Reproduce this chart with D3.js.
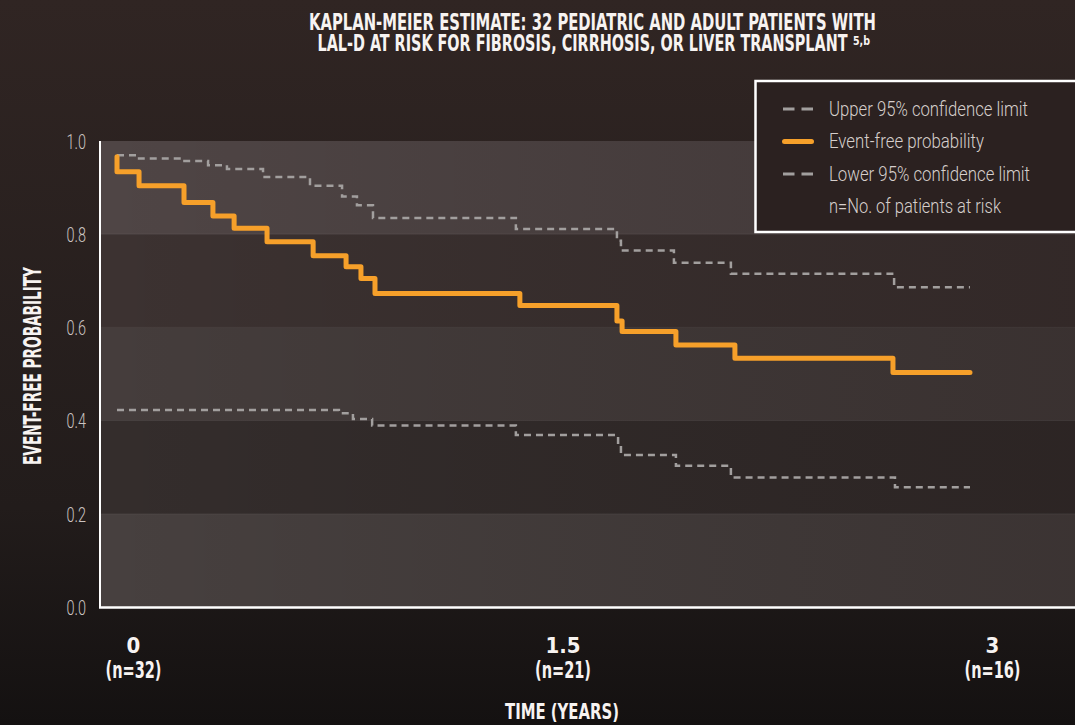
<!DOCTYPE html>
<html lang="en">
<head>
<meta charset="UTF-8">
<title>Kaplan-Meier Estimate</title>
<script src="https://d3js.org/d3.v7.min.js"></script>
<style>
    body {
        margin: 0;
        background: #1c1716;
        overflow: hidden;
    }
    .bold {
        font-family: "Liberation Sans Narrow", "DejaVu Sans Condensed", "DejaVu Sans", sans-serif;
        font-weight: bold;
        fill: #f7f3f1;
    }
    .light {
        font-family: Roboto, "Open Sans", sans-serif;
        font-weight: 300;
        fill: #d6cfcc;
    }
</style>
</head>
<body>
<svg id="chart" width="1075" height="725"></svg>
<script>
    // ---- data ----
    const yTicks = [0, 0.2, 0.4, 0.6, 0.8, 1.0];
    const xTicks = [0, 1.5, 3];
    const xTickLabels = ["0", "1.5", "3"];
    const atRisk = [32, 21, 16];
    const endTime = 2.979;

    // event-free probability (step times in years, value after each step)
    const kmTimes  = [0, 0, 0.077, 0.234, 0.335, 0.409, 0.524, 0.685, 0.800, 0.852, 0.901, 1.407, 1.746, 1.764, 1.952, 2.158, 2.710];
    const kmValues = [0.966, 0.934, 0.904, 0.868, 0.839, 0.813, 0.784, 0.754, 0.730, 0.705, 0.673, 0.647, 0.614, 0.591, 0.562, 0.534, 0.503];

    // upper 95% confidence limit
    const upperTimes  = [0, 0.077, 0.227, 0.318, 0.384, 0.510, 0.674, 0.786, 0.838, 0.894, 1.393, 1.746, 1.760, 1.945, 2.144, 2.714];
    const upperValues = [0.9695, 0.9625, 0.957, 0.948, 0.940, 0.923, 0.904, 0.881, 0.862, 0.835, 0.811, 0.786, 0.765, 0.739, 0.715, 0.686];

    // lower 95% confidence limit
    const lowerTimes  = [0, 0.775, 0.824, 0.891, 1.393, 1.750, 1.760, 1.952, 2.144, 2.717];
    const lowerValues = [0.4227, 0.4157, 0.4034, 0.3895, 0.369, 0.3476, 0.326, 0.303, 0.278, 0.257];

    const legendItems = [
        { label: "Upper 95% confidence limit", type: "dash", w: 199 },
        { label: "Event-free probability", type: "solid", w: 155 },
        { label: "Lower 95% confidence limit", type: "dash", w: 201 },
        { label: "n=No. of patients at risk", type: "none", w: 172 }
    ];

    const W = 1075, H = 725;
    const plot = { left: 100, top: 141, bottom: 607, right: 1075 };
    const orange = "#f6a02a";
    const grey = "#a29f9e";

    const svg = d3.select("#chart");
    const defs = svg.append("defs");

    // page background
    const bg = defs.append("linearGradient").attr("id", "bg")
        .attr("x1", 0).attr("y1", 0).attr("x2", 0).attr("y2", 1);
    bg.append("stop").attr("offset", "0%").attr("stop-color", "#302523");
    bg.append("stop").attr("offset", "70%").attr("stop-color", "#221c1b");
    bg.append("stop").attr("offset", "100%").attr("stop-color", "#141111");
    svg.append("rect").attr("width", W).attr("height", H).attr("fill", "url(#bg)");

    const x = d3.scaleLinear().domain([0, 3]).range([117, 976]);
    const y = d3.scaleLinear().domain([0, 1]).range([plot.bottom, plot.top]);

    // alternating bands
    const bandColors = ["#47403f", "#342d2c", "#453d3c", "#3c3231", "#4f4545"];
    svg.append("g").selectAll("rect")
        .data(yTicks.slice(0, -1))
        .join("rect")
        .attr("x", plot.left)
        .attr("y", d => y(d + 0.2))
        .attr("width", plot.right - plot.left)
        .attr("height", d => y(d) - y(d + 0.2))
        .attr("fill", (d, i) => bandColors[i]);

    // darken towards the right
    const shade = defs.append("linearGradient").attr("id", "shade");
    shade.append("stop").attr("offset", "0%").attr("stop-color", "#000").attr("stop-opacity", 0);
    shade.append("stop").attr("offset", "100%").attr("stop-color", "#120808").attr("stop-opacity", 0.22);
    svg.append("rect")
        .attr("x", plot.left).attr("y", plot.top)
        .attr("width", plot.right - plot.left).attr("height", plot.bottom - plot.top)
        .attr("fill", "url(#shade)");

    svg.append("g").selectAll("line")
        .data(yTicks.slice(1, -1))
        .join("line")
        .attr("x1", plot.left).attr("x2", plot.right)
        .attr("y1", d => y(d)).attr("y2", d => y(d))
        .attr("stroke", "#fff").attr("stroke-opacity", 0.08);

    // step lines
    const stepLine = d3.line()
        .x(d => x(d[0]))
        .y(d => y(d[1]))
        .curve(d3.curveStepAfter);

    function series(times, values) {
        const pts = times.map((t, i) => [t, values[i]]);
        pts.push([endTime, values[values.length - 1]]);
        return pts;
    }

    svg.append("path")
        .datum(series(upperTimes, upperValues))
        .attr("d", stepLine)
        .attr("fill", "none").attr("stroke", grey)
        .attr("stroke-width", 2.5).attr("stroke-dasharray", "7,5");

    svg.append("path")
        .datum(series(lowerTimes, lowerValues))
        .attr("d", stepLine)
        .attr("fill", "none").attr("stroke", grey)
        .attr("stroke-width", 2.5).attr("stroke-dasharray", "7,5");

    svg.append("path")
        .datum(series(kmTimes, kmValues))
        .attr("d", stepLine)
        .attr("fill", "none").attr("stroke", orange)
        .attr("stroke-width", 5)
        .attr("stroke-linejoin", "round").attr("stroke-linecap", "round");

    // axis lines
    svg.append("line")
        .attr("x1", plot.left).attr("x2", plot.left)
        .attr("y1", plot.top).attr("y2", plot.bottom + 1)
        .attr("stroke", "#fff").attr("stroke-width", 2);
    svg.append("line")
        .attr("x1", plot.left - 1).attr("x2", plot.right)
        .attr("y1", plot.bottom + 0.5).attr("y2", plot.bottom + 0.5)
        .attr("stroke", "#fff").attr("stroke-width", 2.5);

    // y axis ticks
    const yAxis = svg.append("g")
        .attr("transform", `translate(${plot.left},0)`)
        .call(d3.axisLeft(y).tickValues(yTicks).tickFormat(d3.format(".1f")).tickSize(0).tickPadding(14));
    yAxis.select(".domain").remove();
    yAxis.selectAll("text")
        .attr("class", "light")
        .attr("font-size", 20)
        .attr("dy", "0.36em")
        .attr("textLength", 19.5)
        .attr("lengthAdjust", "spacingAndGlyphs")
        .style("fill", "#cbc4c1");

    // y axis title
    svg.append("text")
        .attr("class", "bold")
        .attr("transform", "translate(41,366) rotate(-90)")
        .attr("text-anchor", "middle")
        .attr("font-size", 25)
        .attr("textLength", 198)
        .attr("lengthAdjust", "spacingAndGlyphs")
        .text("EVENT-FREE PROBABILITY");

    // x ticks with patients at risk
    const xt = svg.append("g").selectAll("g")
        .data(xTicks)
        .join("g")
        .attr("transform", d => `translate(${x(d) + 16.5},0)`);
    xt.append("text")
        .attr("class", "bold")
        .attr("y", 653)
        .attr("text-anchor", "middle")
        .attr("font-size", 22)
        .text((d, i) => xTickLabels[i]);
    xt.append("text")
        .attr("class", "bold")
        .attr("y", 678)
        .attr("text-anchor", "middle")
        .attr("font-size", 23)
        .attr("textLength", 56)
        .attr("lengthAdjust", "spacingAndGlyphs")
        .text((d, i) => `(n=${atRisk[i]})`);

    svg.append("text")
        .attr("class", "bold")
        .attr("x", 562).attr("y", 719)
        .attr("text-anchor", "middle")
        .attr("font-size", 22)
        .attr("textLength", 114)
        .attr("lengthAdjust", "spacingAndGlyphs")
        .text("TIME (YEARS)");

    // title
    svg.append("text")
        .attr("class", "bold")
        .attr("x", 309).attr("y", 29.5)
        .attr("font-size", 23.5)
        .attr("textLength", 567)
        .attr("lengthAdjust", "spacingAndGlyphs")
        .text("KAPLAN-MEIER ESTIMATE: 32 PEDIATRIC AND ADULT PATIENTS WITH");
    svg.append("text")
        .attr("class", "bold")
        .attr("x", 317.5).attr("y", 50.5)
        .attr("font-size", 23.5)
        .attr("textLength", 530)
        .attr("lengthAdjust", "spacingAndGlyphs")
        .text("LAL-D AT RISK FOR FIBROSIS, CIRRHOSIS, OR LIVER TRANSPLANT");
    svg.append("text")
        .attr("class", "bold")
        .attr("x", 853).attr("y", 45)
        .attr("font-size", 12.5)
        .attr("textLength", 17)
        .attr("lengthAdjust", "spacingAndGlyphs")
        .text("5,b");

    // legend
    const legend = svg.append("g");
    legend.append("rect")
        .attr("x", 755.5).attr("y", 81)
        .attr("width", 340).attr("height", 151)
        .attr("fill", "#2b2120")
        .attr("stroke", "#fff").attr("stroke-width", 2.5);

    const rows = legend.selectAll("g")
        .data(legendItems)
        .join("g")
        .attr("transform", (d, i) => `translate(0,${109 + i * 32.5})`);

    rows.filter(d => d.type === "dash").append("line")
        .attr("x1", 783).attr("x2", 813)
        .attr("stroke", grey).attr("stroke-width", 3)
        .attr("stroke-dasharray", "11.5,7");
    rows.filter(d => d.type === "solid").append("line")
        .attr("x1", 784.5).attr("x2", 811.5)
        .attr("stroke", orange).attr("stroke-width", 5)
        .attr("stroke-linecap", "round");
    rows.append("text")
        .attr("class", "light")
        .attr("x", 829).attr("y", 6.8)
        .attr("font-size", 19.5)
        .attr("textLength", d => d.w)
        .attr("lengthAdjust", "spacingAndGlyphs")
        .text(d => d.label);
</script>
</body>
</html>
